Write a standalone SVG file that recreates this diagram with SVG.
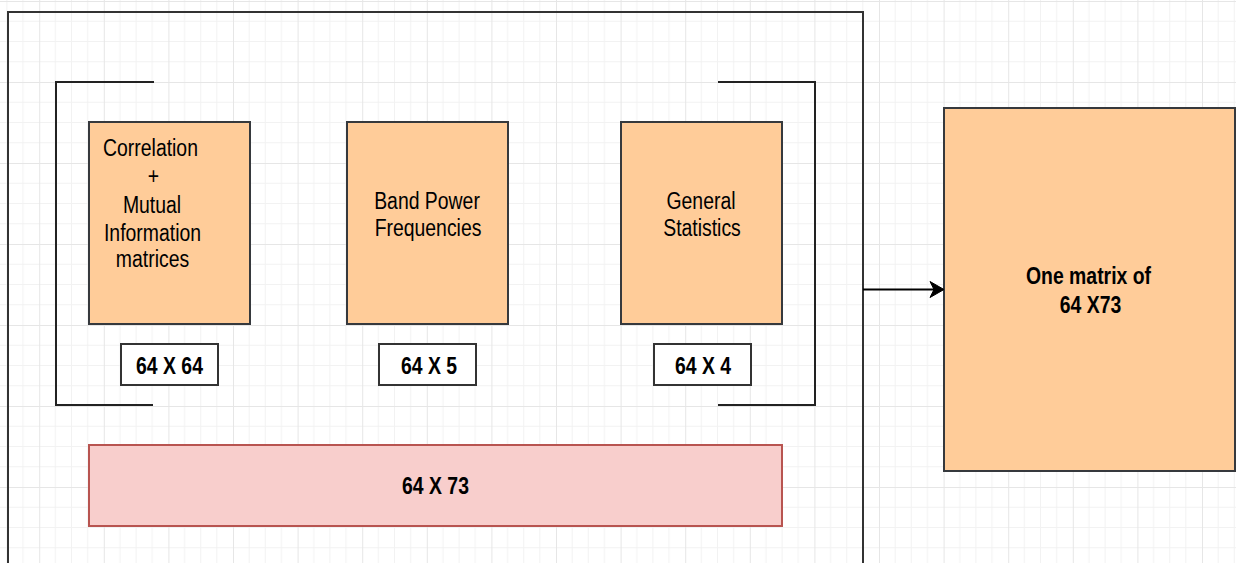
<svg xmlns="http://www.w3.org/2000/svg" width="1236" height="563" viewBox="0 0 1236 563">
  <style>
    .t { font-family: "Liberation Sans", Arial, Helvetica, sans-serif; font-size: 19.4px; fill: #000; text-anchor: middle; }
    .b { font-weight: bold; }
    .feat { fill: #ffcc99; stroke: #36393d; stroke-width: 2; }
    .lbl { fill: #ffffff; stroke: #333333; stroke-width: 2; }
    .brk { fill: none; stroke: #222222; stroke-width: 2; }
  </style>
  <defs>
    <pattern id="grid" patternUnits="userSpaceOnUse" x="39.2" y="1" width="64.6" height="81">
      <path d="M16.15 0V81M32.3 0V81M48.45 0V81M0 20.25H64.6M0 40.5H64.6M0 60.75H64.6" fill="none" stroke="#f2f2f2" stroke-width="1"/>
      <path d="M0.5 0V81M0 0.5H64.6" fill="none" stroke="#e6e6e6" stroke-width="1"/>
    </pattern>
  </defs>
  <rect x="0" y="0" width="1236" height="563" fill="#ffffff"/>
  <rect x="0" y="0" width="1236" height="563" fill="url(#grid)"/>

  <g id="container">
    <rect x="8" y="12" width="855" height="600" fill="none" stroke="#333333" stroke-width="2"/>
  </g>

  <g id="bracket-left">
    <path class="brk" d="M154 82H56V405H153"/>
  </g>
  <g id="bracket-right">
    <path class="brk" d="M718 82H815V405H718"/>
  </g>

  <g id="node-correlation">
    <rect class="feat" x="89" y="122" width="161" height="202"/>
    <text class="t" transform="translate(150.5 155.5) scale(1 1.254)">Correlation</text>
    <text class="t" transform="translate(153.5 184) scale(1 1.254)">+</text>
    <text class="t" transform="translate(152 212.5) scale(1 1.254)">Mutual</text>
    <text class="t" transform="translate(152.5 240.5) scale(1 1.254)">Information</text>
    <text class="t" transform="translate(152.5 267) scale(1 1.254)">matrices</text>
  </g>

  <g id="node-bandpower">
    <rect class="feat" x="347" y="122" width="161" height="202"/>
    <text class="t" transform="translate(427 209) scale(1 1.254)">Band Power</text>
    <text class="t" transform="translate(428 236) scale(1 1.254)">Frequencies</text>
  </g>

  <g id="node-stats">
    <rect class="feat" x="621" y="122" width="161" height="202"/>
    <text class="t" transform="translate(701 209) scale(1 1.254)">General</text>
    <text class="t" transform="translate(702 236) scale(1 1.254)">Statistics</text>
  </g>

  <g id="label-64x64">
    <rect class="lbl" x="121" y="344" width="97" height="41"/>
    <text class="t b" transform="translate(169.5 374) scale(1 1.254)">64 X 64</text>
  </g>
  <g id="label-64x5">
    <rect class="lbl" x="379" y="344" width="97" height="41"/>
    <text class="t b" transform="translate(429 374) scale(1 1.254)">64 X 5</text>
  </g>
  <g id="label-64x4">
    <rect class="lbl" x="654" y="344" width="97" height="41"/>
    <text class="t b" transform="translate(703 374) scale(1 1.254)">64 X 4</text>
  </g>

  <g id="node-64x73">
    <rect x="89" y="445" width="693" height="81" fill="#f8cecc" stroke="#b85450" stroke-width="2"/>
    <text class="t b" transform="translate(435.5 494) scale(1 1.254)">64 X 73</text>
  </g>

  <g id="node-one-matrix">
    <rect class="feat" x="944" y="108" width="291" height="363"/>
    <text class="t b" transform="translate(1088.5 284) scale(1 1.254)">One matrix of</text>
    <text class="t b" transform="translate(1090.5 313) scale(1 1.254)">64 X73</text>
  </g>

  <g id="connectors">
    <path d="M863 289.5H934" fill="none" stroke="#000000" stroke-width="2"/>
    <path d="M944 289.5L930 281.5L934 289.5L930 297.5Z" fill="#000000" stroke="#000000" stroke-width="1"/>
  </g>
</svg>
